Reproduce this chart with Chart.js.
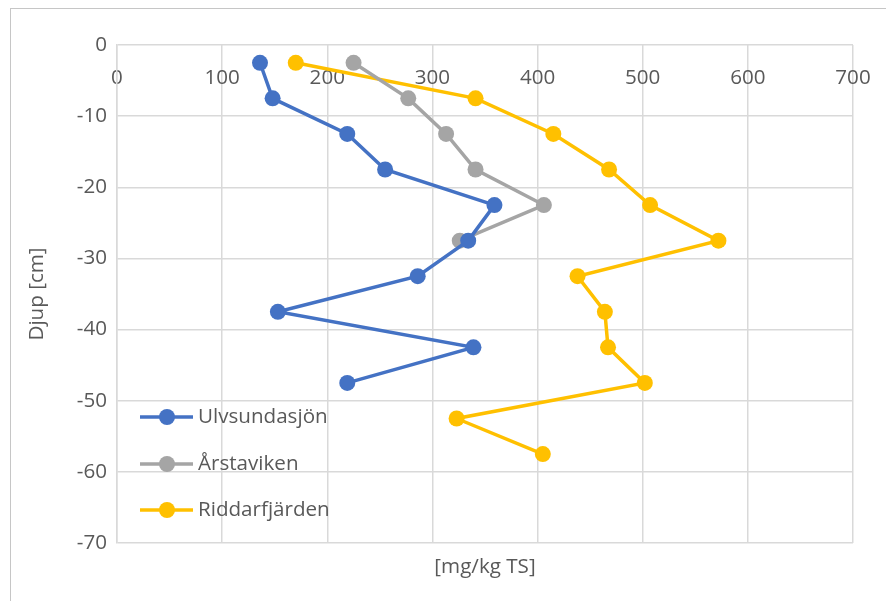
<!DOCTYPE html>
<html>
<head>
<meta charset="utf-8">
<script src="https://cdn.jsdelivr.net/npm/chart.js@4/dist/chart.umd.min.js"></script>
<style>
  body { margin: 0; background: #fff; overflow: hidden; }
  #frame { position: absolute; left: 10px; top: 8px; width: 876px; height: 593px;
           border-left: 1px solid #c6c6c6; border-top: 1px solid #c6c6c6; }
  #wrap { width: 875px; height: 592px; }
</style>
</head>
<body>
<div id="frame"><div id="wrap"><canvas id="line-chart"></canvas></div></div>
<script>
// depth midpoints [cm]
var depth = [-2.5, -7.5, -12.5, -17.5, -22.5, -27.5, -32.5, -37.5, -42.5, -47.5, -52.5, -57.5];

// concentration [mg/kg TS]
var ulvsundasjon = [136, 148, 219, 255, 359, 334, 286, 153, 339, 219];
var arstaviken = [225, 277, 313, 341, 406, 326];
var riddarfjarden = [170, 341, 415, 468, 507, 572, 438, 464, 467, 502, 323, 405];

var seriesNames = ["Ulvsundasjön", "Årstaviken", "Riddarfjärden"];
var seriesColors = ["#4472C4", "#A5A5A5", "#FFC000"];

var xTitle = "[mg/kg TS]";
var yTitle = "Djup [cm]";

var textColor = "#595959";
var gridColor = "#d9d9d9";
var fontFamily = "'Open Sans', sans-serif";
var fontSize = 20.6;

function points(vals){
    var out = [];
    for(var i = 0; i < vals.length; i++){
        out.push({x: vals[i], y: depth[i]});
    }
    return out;
}

var allValues = [ulvsundasjon, arstaviken, riddarfjarden];
var datasets = [];
for(var s = 0; s < 3; s++){
    datasets.push({
        label: seriesNames[s],
        data: points(allValues[s]),
        showLine: true,
        borderColor: seriesColors[s],
        backgroundColor: seriesColors[s],
        borderWidth: 3.5,
        pointRadius: 8,
        pointBorderWidth: 0,
        pointHoverRadius: 8
    });
}

// legend drawn inside plot area, lower left (line + marker like Excel)
var insideLegend = {
    id: 'insideLegend',
    afterDatasetsDraw(chart){
        var ctx = chart.ctx;
        var area = chart.chartArea;
        var offsets = [126, 79, 33];
        ctx.save();
        ctx.font = fontSize + "px " + fontFamily;
        ctx.textBaseline = "middle";
        for(var i = 0; i < 3; i++){
            var y = area.bottom - offsets[i];
            var x0 = area.left + 23;
            ctx.strokeStyle = seriesColors[i];
            ctx.lineWidth = 3.5;
            ctx.beginPath();
            ctx.moveTo(x0, y);
            ctx.lineTo(x0 + 53, y);
            ctx.stroke();
            ctx.fillStyle = seriesColors[i];
            ctx.beginPath();
            ctx.arc(x0 + 27, y, 8, 0, Math.PI * 2);
            ctx.fill();
            ctx.fillStyle = textColor;
            ctx.fillText(seriesNames[i], x0 + 58, y);
        }
        ctx.restore();
    }
};

// x axis title under the plot
var bottomTitle = {
    id: 'bottomTitle',
    afterDraw(chart){
        var ctx = chart.ctx;
        var area = chart.chartArea;
        ctx.save();
        ctx.font = fontSize + "px " + fontFamily;
        ctx.fillStyle = textColor;
        ctx.textAlign = "center";
        ctx.textBaseline = "middle";
        ctx.fillText(xTitle, (area.left + area.right) / 2, area.bottom + 24);
        ctx.restore();
    }
};

new Chart(document.getElementById("line-chart"), {
    type: 'scatter',
    data: { datasets: datasets },
    plugins: [insideLegend, bottomTitle],
    options: {
        responsive: true,
        maintainAspectRatio: false,
        animation: false,
        layout: { padding: { left: 0, top: 36, right: 33, bottom: 58 } },
        plugins: {
            legend: { display: false },
            tooltip: { enabled: false }
        },
        scales: {
            x: {
                type: 'linear',
                position: { y: 0 },
                min: 0,
                max: 700,
                ticks: { stepSize: 100, color: textColor, font: { size: fontSize, family: fontFamily }, padding: 21, maxRotation: 0 },
                grid: { color: gridColor, lineWidth: 1.5, drawTicks: false },
                border: { display: false },
                afterFit: function(scale){ scale.paddingLeft = 0; scale.paddingRight = 0; }
            },
            y: {
                type: 'linear',
                min: -70,
                max: 0,
                ticks: { stepSize: 10, color: textColor, font: { size: fontSize, family: fontFamily }, padding: 10 },
                grid: { color: gridColor, lineWidth: 1.5, drawTicks: false },
                border: { color: gridColor, width: 1.5 },
                title: { display: true, text: yTitle, color: textColor, font: { size: fontSize, family: fontFamily }, padding: { top: 14, bottom: 0 } },
                afterFit: function(scale){ scale.width = 106; }
            }
        }
    }
});
</script>
</body>
</html>
